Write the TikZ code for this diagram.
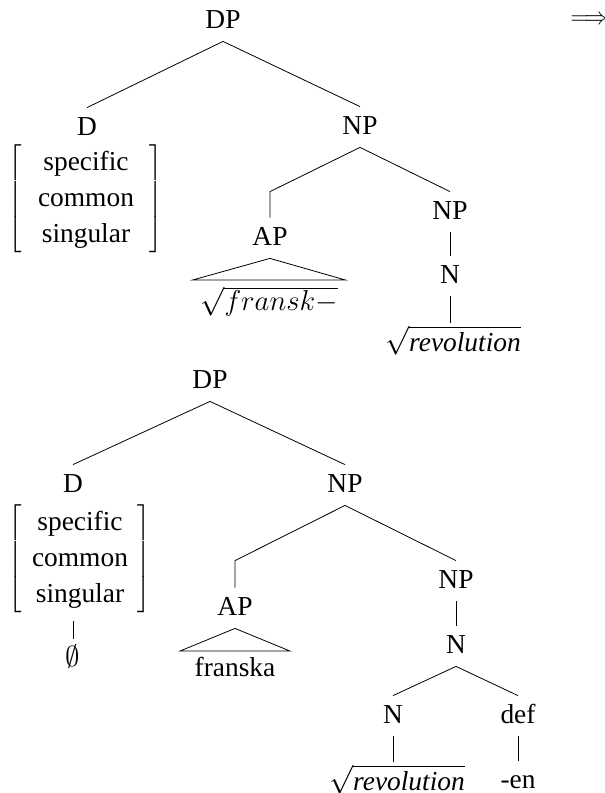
\documentclass[tikz,border=0pt]{standalone}
\usepackage{fontspec}
\setmainfont{Liberation Serif}[ItalicFont={Liberation Serif Italic}]
\tikzset{
  cat/.style={inner sep=3.5pt, text height=10pt, text depth=3pt, anchor=base},
  leaf/.style={inner sep=1pt, anchor=north},
  roof/.style={inner sep=3pt, anchor=north},
  feats/.style={inner sep=3.5pt}
}
% feature matrix, #1 = padding inside the brackets
\newcommand{\featmat}[1]{$\left[\renewcommand{\arraystretch}{1.1}\begin{tabular}{@{\hspace{#1}}c@{\hspace{#1}}}specific\\common\\singular\end{tabular}\right]$}
\newcommand{\rootof}[1]{$\sqrt{\mbox{\itshape #1}}$}
\begin{document}
\begin{tikzpicture}[x=0.5pt, y=-0.5pt, every node/.style={font=\fontsize{13.7}{16.4}\selectfont}]
            \useasboundingbox (0, 0) rectangle (605, 793);

            % Arrow
            \node[anchor=west, inner sep=0, font=\fontsize{11.5}{14}\selectfont] (arr) at (570, 20) {$\Longrightarrow$};

            % Upper tree
            \node[cat] (dpA) at (223, 28) {DP};
            \node[cat] (dA) at (87, 135) {D};
            \node[cat] (npA) at (360, 134) {NP};
            \node[feats] (fA) at (86, 199) {\featmat{8pt}};
            \node[cat] (apA) at (270, 245) {AP};
            \node[cat] (npB) at (450, 219) {NP};
            \node[cat] (nA) at (450, 283) {N};
            \node[roof, minimum width=76pt] (frA) at (269, 280) {$\sqrt{fransk-}$};
            \node[leaf] (revA) at (453, 323) {\rootof{revolution}};

            \draw (dpA.south) -- (dA.north);
            \draw (dpA.south) -- (npA.north);
            \draw (npA.south) -- (apA.north |- npB.north) -- (apA.north);
            \draw (npA.south) -- (npB.north);
            \draw (npB.south) -- (nA.north);
            \draw (nA.south) -- (nA.south |- revA.north);
            \draw (apA.south) -- (frA.north west) -- (frA.north east) -- cycle;

            % Lower tree
            \node[cat] (dpB) at (210, 388) {DP};
            \node[cat] (dB) at (73, 492) {D};
            \node[cat] (npC) at (345, 492) {NP};
            \node[feats] (fB) at (80, 559) {\featmat{5pt}};
            \node[cat] (zero) at (73, 666) {$\emptyset$};
            \node[cat] (apB) at (235, 615) {AP};
            \node[cat] (npD) at (456, 588) {NP};
            \node[cat] (nC) at (456, 653) {N};
            \node[roof, minimum width=54.5pt] (frB) at (235, 651) {franska};
            \node[cat] (nD) at (393, 723) {N};
            \node[cat] (defn) at (518, 723) {def};
            \node[leaf] (revB) at (397, 762) {\rootof{revolution}};
            \node[cat] (en) at (518, 788) {-en};

            \draw (dpB.south) -- (dB.north);
            \draw (dpB.south) -- (npC.north);
            \draw (zero.north |- fB.south) -- (zero.north);
            \draw (npC.south) -- (apB.north |- npD.north) -- (apB.north);
            \draw (npC.south) -- (npD.north);
            \draw (npD.south) -- (nC.north);
            \draw (apB.south) -- (frB.north west) -- (frB.north east) -- cycle;
            \draw (nC.south) -- (nD.north);
            \draw (nC.south) -- (defn.north);
            \draw (nD.south) -- (nD.south |- revB.north);
            \draw (defn.south) -- (en.north);

        \end{tikzpicture}
\end{document}
